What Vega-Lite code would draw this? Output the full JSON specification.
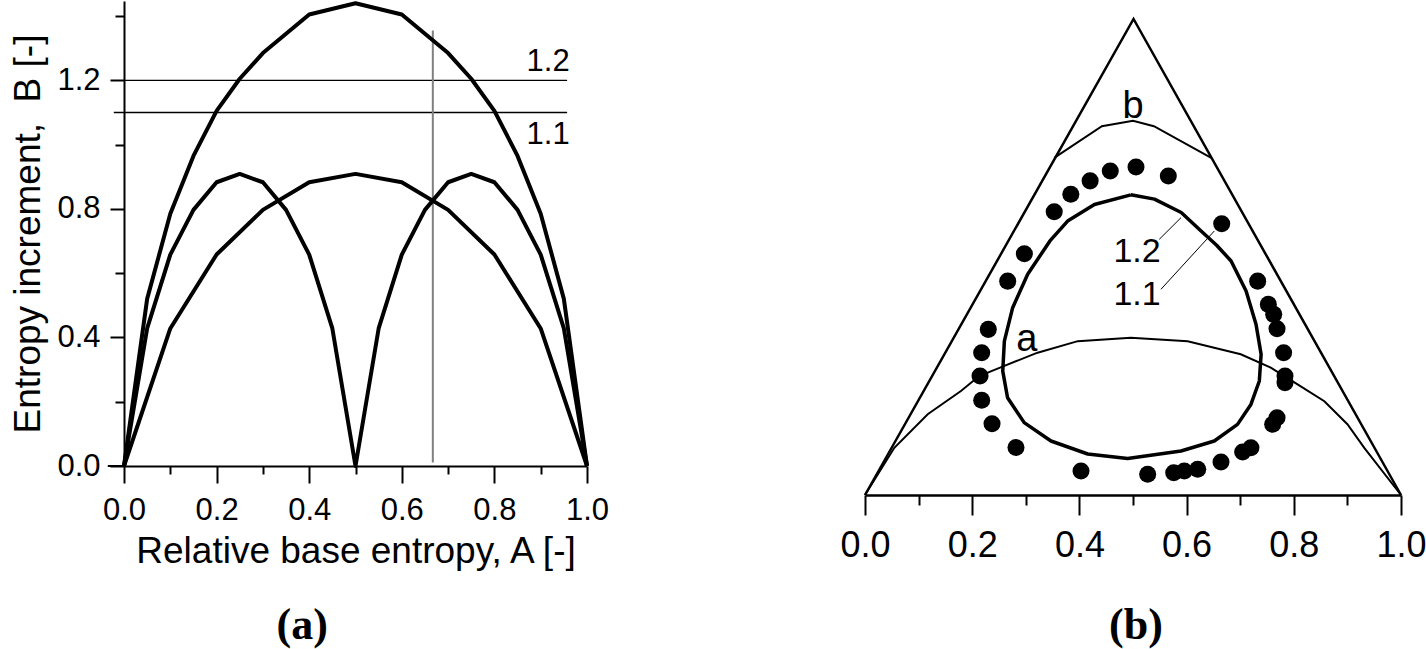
{
  "$schema": "https://vega.github.io/schema/vega-lite/v6.json",
  "background": "white",
  "padding": {"left": 9, "top": 0, "right": 0, "bottom": 0},
  "spacing": 278,
  "bounds": "flush",
  "config": {
    "view": {"stroke": null},
    "font": "Liberation Sans",
    "axis": {"grid": false, "domainColor": "black", "tickColor": "black", "labelColor": "black", "titleColor": "black", "labelFont": "Liberation Sans", "titleFont": "Liberation Sans", "titleFontWeight": "normal"}
  },
  "datasets": {
    "curvesA": [
      {"s": "top", "x": 0, "y": 0}, {"s": "top", "x": 0.05, "y": 0.52}, {"s": "top", "x": 0.1, "y": 0.785}, {"s": "top", "x": 0.15, "y": 0.965}, {"s": "top", "x": 0.2, "y": 1.105}, {"s": "top", "x": 0.25, "y": 1.205}, {"s": "top", "x": 0.3, "y": 1.285}, {"s": "top", "x": 0.35, "y": 1.345}, {"s": "top", "x": 0.4, "y": 1.405}, {"s": "top", "x": 0.5, "y": 1.44}, {"s": "top", "x": 0.6, "y": 1.405}, {"s": "top", "x": 0.65, "y": 1.345}, {"s": "top", "x": 0.7, "y": 1.285}, {"s": "top", "x": 0.75, "y": 1.205}, {"s": "top", "x": 0.8, "y": 1.105}, {"s": "top", "x": 0.85, "y": 0.965}, {"s": "top", "x": 0.9, "y": 0.785}, {"s": "top", "x": 0.95, "y": 0.52}, {"s": "top", "x": 1, "y": 0},
      {"s": "single", "x": 0, "y": 0}, {"s": "single", "x": 0.1, "y": 0.428}, {"s": "single", "x": 0.2, "y": 0.658}, {"s": "single", "x": 0.3, "y": 0.797}, {"s": "single", "x": 0.4, "y": 0.883}, {"s": "single", "x": 0.5, "y": 0.909}, {"s": "single", "x": 0.6, "y": 0.883}, {"s": "single", "x": 0.7, "y": 0.797}, {"s": "single", "x": 0.8, "y": 0.658}, {"s": "single", "x": 0.9, "y": 0.428}, {"s": "single", "x": 1, "y": 0},
      {"s": "double", "x": 0, "y": 0}, {"s": "double", "x": 0.05, "y": 0.428}, {"s": "double", "x": 0.1, "y": 0.658}, {"s": "double", "x": 0.15, "y": 0.797}, {"s": "double", "x": 0.2, "y": 0.883}, {"s": "double", "x": 0.25, "y": 0.909}, {"s": "double", "x": 0.3, "y": 0.883}, {"s": "double", "x": 0.35, "y": 0.797}, {"s": "double", "x": 0.4, "y": 0.658}, {"s": "double", "x": 0.45, "y": 0.428}, {"s": "double", "x": 0.5, "y": 0}, {"s": "double", "x": 0.55, "y": 0.428}, {"s": "double", "x": 0.6, "y": 0.658}, {"s": "double", "x": 0.65, "y": 0.797}, {"s": "double", "x": 0.7, "y": 0.883}, {"s": "double", "x": 0.75, "y": 0.909}, {"s": "double", "x": 0.8, "y": 0.883}, {"s": "double", "x": 0.85, "y": 0.797}, {"s": "double", "x": 0.9, "y": 0.658}, {"s": "double", "x": 0.95, "y": 0.428}, {"s": "double", "x": 1, "y": 0}
    ],
    "hlinesA": [
      {"x": 0, "x2": 0.957, "y": 1.2},
      {"x": -0.022, "x2": 0.957, "y": 1.1}
    ],
    "labelsA": [
      {"t": "1.2", "x": 0.916, "y": 1.228},
      {"t": "1.1", "x": 0.916, "y": 1.002}
    ],
    "triangle": [
      {"x": 0, "y": 0}, {"x": 0.501, "y": 0.888}, {"x": 1, "y": 0}
    ],
    "curvesB": [
      {"c": "a", "x": 0, "y": 0}, {"c": "a", "x": 0.0547, "y": 0.088}, {"c": "a", "x": 0.117, "y": 0.1506}, {"c": "a", "x": 0.179, "y": 0.194}, {"c": "a", "x": 0.213, "y": 0.222}, {"c": "a", "x": 0.26, "y": 0.241}, {"c": "a", "x": 0.322, "y": 0.2655}, {"c": "a", "x": 0.397, "y": 0.287}, {"c": "a", "x": 0.496, "y": 0.2935}, {"c": "a", "x": 0.602, "y": 0.287}, {"c": "a", "x": 0.701, "y": 0.2625}, {"c": "a", "x": 0.757, "y": 0.2375}, {"c": "a", "x": 0.807, "y": 0.2065}, {"c": "a", "x": 0.857, "y": 0.175}, {"c": "a", "x": 0.9, "y": 0.132}, {"c": "a", "x": 0.9315, "y": 0.088}, {"c": "a", "x": 1, "y": 0},
      {"c": "b", "x": 0.353, "y": 0.629}, {"c": "b", "x": 0.442, "y": 0.688}, {"c": "b", "x": 0.5, "y": 0.698}, {"c": "b", "x": 0.539, "y": 0.688}, {"c": "b", "x": 0.646, "y": 0.629}
    ],
    "loop": [
      {"i": 1, "x": 0.496, "y": 0.56}, {"i": 2, "x": 0.54, "y": 0.552}, {"i": 3, "x": 0.59, "y": 0.527}, {"i": 4, "x": 0.627, "y": 0.4925}, {"i": 5, "x": 0.656, "y": 0.466}, {"i": 6, "x": 0.683, "y": 0.4366}, {"i": 7, "x": 0.711, "y": 0.3806}, {"i": 8, "x": 0.7295, "y": 0.3185}, {"i": 9, "x": 0.739, "y": 0.2625}, {"i": 10, "x": 0.7357, "y": 0.2127}, {"i": 11, "x": 0.72, "y": 0.169}, {"i": 12, "x": 0.695, "y": 0.1318}, {"i": 13, "x": 0.6517, "y": 0.1007}, {"i": 14, "x": 0.5896, "y": 0.082}, {"i": 15, "x": 0.49, "y": 0.068}, {"i": 16, "x": 0.4155, "y": 0.0765}, {"i": 17, "x": 0.347, "y": 0.1007}, {"i": 18, "x": 0.297, "y": 0.135}, {"i": 19, "x": 0.266, "y": 0.1815}, {"i": 20, "x": 0.257, "y": 0.231}, {"i": 21, "x": 0.26, "y": 0.287}, {"i": 22, "x": 0.2755, "y": 0.3495}, {"i": 23, "x": 0.3035, "y": 0.4117}, {"i": 24, "x": 0.345, "y": 0.474}, {"i": 25, "x": 0.378, "y": 0.511}, {"i": 26, "x": 0.428, "y": 0.542}, {"i": 27, "x": 0.496, "y": 0.56}
    ],
    "leaders": [
      {"x": 0.549, "y": 0.477, "x2": 0.5896, "y2": 0.5174},
      {"x": 0.5522, "y": 0.3838, "x2": 0.6517, "y2": 0.4925}
    ],
    "dots": [
      {"x": 0.353, "y": 0.5285}, {"x": 0.384, "y": 0.561}, {"x": 0.42, "y": 0.586}, {"x": 0.4576, "y": 0.6045}, {"x": 0.5056, "y": 0.612}, {"x": 0.5659, "y": 0.5951}, {"x": 0.6655, "y": 0.506},
      {"x": 0.2973, "y": 0.4502}, {"x": 0.2662, "y": 0.399}, {"x": 0.23, "y": 0.309}, {"x": 0.2177, "y": 0.2655}, {"x": 0.2146, "y": 0.222}, {"x": 0.2177, "y": 0.1767}, {"x": 0.237, "y": 0.133}, {"x": 0.2817, "y": 0.0886}, {"x": 0.403, "y": 0.0448},
      {"x": 0.5274, "y": 0.0386}, {"x": 0.576, "y": 0.0416}, {"x": 0.5957, "y": 0.0448}, {"x": 0.6207, "y": 0.0479}, {"x": 0.6642, "y": 0.0616}, {"x": 0.7046, "y": 0.0802}, {"x": 0.72, "y": 0.0883}, {"x": 0.7606, "y": 0.1318}, {"x": 0.7687, "y": 0.1442}, {"x": 0.7836, "y": 0.2095}, {"x": 0.7836, "y": 0.222}, {"x": 0.781, "y": 0.2655}, {"x": 0.7687, "y": 0.3102}, {"x": 0.7625, "y": 0.337}, {"x": 0.7525, "y": 0.3556}, {"x": 0.7326, "y": 0.399}
    ],
    "labelsB": [
      {"t": "b", "x": 0.5, "y": 0.7034, "f": 38},
      {"t": "a", "x": 0.302, "y": 0.2687, "f": 38},
      {"t": "1.2", "x": 0.5075, "y": 0.4347, "f": 34},
      {"t": "1.1", "x": 0.5075, "y": 0.3545, "f": 34}
    ]
  },
  "hconcat": [
    {
      "width": 463,
      "height": 465,
      "encoding": {
        "x": {
          "field": "x", "type": "quantitative",
          "scale": {"domain": [0, 1], "nice": false, "zero": false},
          "axis": {
            "values": [0, 0.1, 0.2, 0.3, 0.4, 0.5, 0.6, 0.7, 0.8, 0.9, 1],
            "labelExpr": "round(datum.value*10) % 2 === 0 ? format(datum.value, '.1f') : ''",
            "tickSize": {"condition": {"test": "round(datum.value*10) % 2 === 0", "value": 17}, "value": 8},
            "tickWidth": 2, "domainWidth": 2,
            "labelFontSize": 31, "labelPadding": 12, "labelFlush": false, "labelOverlap": false,
            "title": "Relative base entropy, A [-]", "titleFontSize": 37, "titlePadding": 8
          }
        },
        "y": {
          "field": "y", "type": "quantitative",
          "scale": {"domain": [0, 1.447], "nice": false, "zero": false},
          "axis": {
            "values": [0, 0.2, 0.4, 0.6, 0.8, 1.0, 1.2, 1.4],
            "labelExpr": "round(datum.value*10) % 4 === 0 ? format(datum.value, '.1f') : ''",
            "tickSize": {"condition": {"test": "round(datum.value*10) % 4 === 0", "value": 14}, "value": 9},
            "tickWidth": 2, "domainWidth": 2,
            "labelFontSize": 31, "labelPadding": 10, "labelFlush": false, "labelOverlap": false,
            "title": "Entropy increment,\u00a0 B [-]", "titleFontSize": 37, "titlePadding": 9
          }
        }
      },
      "layer": [
        {
          "data": {"name": "hlinesA"},
          "mark": {"type": "rule", "stroke": "black", "strokeWidth": 1.3},
          "encoding": {"x2": {"field": "x2"}}
        },
        {
          "data": {"values": [{"x": -0.035, "x2": 0, "y": 0}]},
          "mark": {"type": "rule", "stroke": "black", "strokeWidth": 2},
          "encoding": {"x2": {"field": "x2"}}
        },
        {
          "data": {"values": [{"x": 0.667, "y": 0.011, "y2": 1.355}]},
          "mark": {"type": "rule", "stroke": "#808080", "strokeWidth": 2},
          "encoding": {"y2": {"field": "y2"}}
        },
        {
          "data": {"name": "curvesA"},
          "mark": {"type": "line", "stroke": "black", "strokeWidth": 4, "strokeJoin": "round"},
          "encoding": {"detail": {"field": "s", "type": "nominal"}}
        },
        {
          "data": {"name": "labelsA"},
          "mark": {"type": "text", "fontSize": 31, "font": "Liberation Sans", "align": "center", "baseline": "alphabetic", "color": "black"},
          "encoding": {"text": {"field": "t", "type": "nominal"}}
        },
        {
          "data": {"values": [{"t": "(a)", "x": 0.385, "y": -0.5375}]},
          "mark": {"type": "text", "fontSize": 44, "font": "Liberation Serif", "fontWeight": "bold", "align": "center", "baseline": "alphabetic", "color": "black"},
          "encoding": {"text": {"field": "t", "type": "nominal"}}
        }
      ]
    },
    {
      "width": 536,
      "height": 494,
      "encoding": {
        "x": {
          "field": "x", "type": "quantitative",
          "scale": {"domain": [0, 1], "nice": false, "zero": false},
          "axis": {
            "values": [0, 0.1, 0.2, 0.3, 0.4, 0.5, 0.6, 0.7, 0.8, 0.9, 1],
            "labelExpr": "round(datum.value*10) % 2 === 0 ? format(datum.value, '.1f') : ''",
            "tickSize": {"condition": {"test": "round(datum.value*10) % 2 === 0", "value": 20}, "value": 10},
            "tickWidth": 2, "domainWidth": 2.5,
            "labelFontSize": 36, "labelPadding": 13, "labelFlush": false, "labelOverlap": false,
            "title": null
          }
        },
        "y": {
          "field": "y", "type": "quantitative",
          "scale": {"domain": [0, 0.9216], "nice": false, "zero": false},
          "axis": null
        }
      },
      "layer": [
        {
          "data": {"name": "triangle"},
          "mark": {"type": "line", "stroke": "black", "strokeWidth": 2.5},
          "encoding": {}
        },
        {
          "data": {"name": "curvesB"},
          "mark": {"type": "line", "stroke": "black", "strokeWidth": 2},
          "encoding": {"detail": {"field": "c", "type": "nominal"}}
        },
        {
          "data": {"name": "loop"},
          "mark": {"type": "line", "stroke": "black", "strokeWidth": 3.5, "strokeJoin": "round"},
          "encoding": {"order": {"field": "i", "type": "quantitative"}}
        },
        {
          "data": {"name": "leaders"},
          "mark": {"type": "rule", "stroke": "black", "strokeWidth": 1},
          "encoding": {"x2": {"field": "x2"}, "y2": {"field": "y2"}}
        },
        {
          "data": {"name": "dots"},
          "mark": {"type": "circle", "size": 290, "color": "black", "opacity": 1},
          "encoding": {}
        },
        {
          "data": {"name": "labelsB"},
          "mark": {"type": "text", "font": "Liberation Sans", "align": "center", "baseline": "alphabetic", "color": "black"},
          "encoding": {"text": {"field": "t", "type": "nominal"}, "size": {"field": "f", "type": "quantitative", "scale": null}}
        },
        {
          "data": {"values": [{"t": "(b)", "x": 0.5056, "y": -0.2687}]},
          "mark": {"type": "text", "fontSize": 44, "font": "Liberation Serif", "fontWeight": "bold", "align": "center", "baseline": "alphabetic", "color": "black"},
          "encoding": {"text": {"field": "t", "type": "nominal"}}
        }
      ]
    }
  ]
}
